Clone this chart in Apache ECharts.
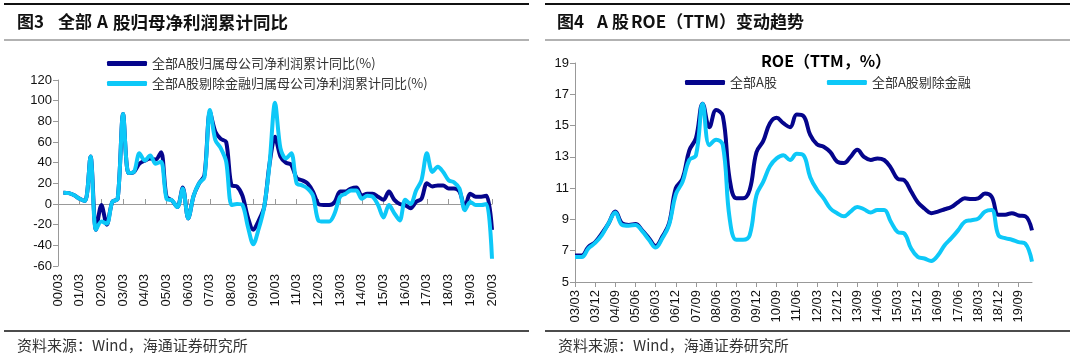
<!DOCTYPE html>
<html><head><meta charset="utf-8">
<script src="https://cdn.jsdelivr.net/npm/echarts@6/dist/echarts.min.js"></script>
<style>html,body{margin:0;padding:0;background:#fff}#c{width:1080px;height:361px}</style>
</head><body><div id="c"></div>
<script>
// ---------- Figure 3 data (quarterly cumulative YoY, %) ----------
const profitCats = ['00/03','00/06','00/09','00/12','01/03','01/06','01/09','01/12','02/03','02/06','02/09','02/12','03/03','03/06','03/09','03/12','04/03','04/06','04/09','04/12','05/03','05/06','05/09','05/12','06/03','06/06','06/09','06/12','07/03','07/06','07/09','07/12','08/03','08/06','08/09','08/12','09/03','09/06','09/09','09/12','10/03','10/06','10/09','10/12','11/03','11/06','11/09','11/12','12/03','12/06','12/09','12/12','13/03','13/06','13/09','13/12','14/03','14/06','14/09','14/12','15/03','15/06','15/09','15/12','16/03','16/06','16/09','16/12','17/03','17/06','17/09','17/12','18/03','18/06','18/09','18/12','19/03','19/06','19/09','19/12','20/03'];
const profitAll = [null, 11, 10.5, 8.5, 5, 3, 46, -25, -1, -20, 2, 5, 87, 30, 31, 39, 42, 44, 43, 50, 7, 3.5, -3, 16, -14, 8, 20, 28, 89, 70, 63, 60, 18, 17, 8, -13, -25, -16, -3, 39, 65, 46, 40, 38, 25, 23, 20, 12, 0, -1, -1, 2, 12, 12, 15, 16, 8, 10, 10, 7, 4, 12, 4, 0, -1, -4, 2, 5, 20, 17, 18, 18, 15, 15, 12, -3, 10, 7, 7, 8, -25];
const profitExFin = [null, 11, 10.5, 8.5, 5, 3, 46, -25, -17, -19, 2, 5, 87, 30, 31, 49, 42, 47, 39, 41, 5, 3.5, -3, 15, -14, 8, 20, 26, 91, 62, 54, 41, -1, 0, -1, -22, -39, -24, -3, 39, 98, 54, 44, 49, 20, 18, 15, 8, -16, -17, -17, -9, 7, 10, 13, 13, 5, 8, 7, -1, -13, -1, -9, -16, 4, 0, 13, 23, 49, 31, 36, 31, 23, 21, 15, -6, 2, -1, -1, 0, -53];
const profitNames = ['全部A股归属母公司净利润累计同比(%)', '全部A股剔除金融归属母公司净利润累计同比(%)'];

// ---------- Figure 4 data (ROE TTM, %) ----------
const roeCats = ['03/03','03/06','03/09','03/12','04/03','04/06','04/09','04/12','05/03','05/06','05/09','05/12','06/03','06/06','06/09','06/12','07/03','07/06','07/09','07/12','08/03','08/06','08/09','08/12','09/03','09/06','09/09','09/12','10/03','10/06','10/09','10/12','11/03','11/06','11/09','11/12','12/03','12/06','12/09','12/12','13/03','13/06','13/09','13/12','14/03','14/06','14/09','14/12','15/03','15/06','15/09','15/12','16/03','16/06','16/09','16/12','17/03','17/06','17/09','17/12','18/03','18/06','18/09','18/12','19/03','19/06','19/09','19/12','20/03'];
const roeAll = [6.7, 6.7, 7.25, 7.55, 8.1, 8.75, 9.5, 8.75, 8.65, 8.7, 8.3, 7.8, 7.3, 7.9, 8.75, 11.0, 11.6, 13.4, 14.2, 16.4, 14.9, 16.0, 15.6, 11.6, 10.35, 10.35, 10.9, 13.3, 14.0, 15.15, 15.5, 15.15, 14.9, 15.7, 15.6, 14.4, 13.8, 13.65, 13.3, 12.7, 12.6, 13.0, 13.45, 13.0, 12.8, 12.9, 12.8, 12.3, 11.6, 11.5, 10.8, 10.1, 9.7, 9.4, 9.5, 9.65, 9.8, 10.1, 10.35, 10.3, 10.35, 10.65, 10.45, 9.3, 9.3, 9.4, 9.25, 9.2, 8.3];
const roeExFin = [6.6, 6.6, 7.15, 7.5, 8.0, 8.75, 9.45, 8.65, 8.6, 8.65, 8.25, 7.7, 7.2, 7.8, 8.65, 10.6, 11.4, 12.8, 13.1, 16.4, 13.75, 14.1, 13.75, 9.1, 7.7, 7.7, 8.0, 10.55, 11.4, 12.4, 12.9, 13.1, 12.8, 13.2, 13.1, 11.7, 10.9, 10.35, 9.7, 9.4, 9.2, 9.5, 9.8, 9.65, 9.45, 9.6, 9.6, 8.85, 8.2, 8.1, 7.15, 6.6, 6.5, 6.35, 6.7, 7.35, 7.8, 8.3, 8.85, 8.95, 9.05, 9.5, 9.6, 8.0, 7.8, 7.7, 7.55, 7.45, 6.3];
const roeNames = ['全部A股', '全部A股剔除金融'];

// ---------- text ----------
const title3Parts = ['图3', '全部', 'A', '股归母净利润累计同比'];
const title4Parts = ['图4', 'A', '股', 'ROE（TTM）变动趋势'];
const roeTitle = 'ROE（TTM，%）';
const sourceText = '资料来源：Wind，海通证券研究所';

const DARK = '#05058c';
const LIGHT = '#0dc8f8';
const CJK = '"Noto Sans CJK SC", sans-serif';
const LAT = '"Liberation Sans", Arial, sans-serif';

const chart = echarts.init(document.getElementById('c'), null, {renderer: 'canvas'});

function hline(x1, x2, y, color, w) {
  return {type: 'line', shape: {x1: x1, y1: y, x2: x2, y2: y}, style: {stroke: color, lineWidth: w}, silent: true};
}
function txt(x, y, t, size, weight, color, align) {
  return {type: 'text', x: x, y: y, style: {text: t, font: weight + ' ' + size + 'px ' + CJK, fill: color, textAlign: align || 'left', textVerticalAlign: 'middle'}, silent: true};
}

const yLabel = {color: '#111', fontSize: 13, fontFamily: LAT, margin: 6};
const xLabel = {color: '#111', fontSize: 13, fontFamily: LAT, rotate: 90, margin: 8};
const axisGray = {lineStyle: {color: '#999', width: 1}};

const option = {
  animation: false,
  backgroundColor: '#fff',
  graphic: [
    hline(4, 529, 4, '#111', 2),
    hline(4, 529, 40, '#999', 1.5),
    hline(545, 1070, 4, '#111', 2),
    hline(545, 1070, 40, '#999', 1.5),
    hline(4, 529, 331, '#111', 1.5),
    hline(545, 1070, 331, '#111', 1.5),
    txt(17, 22, title3Parts[0], 17, 'bold', '#111'),
    txt(58, 22, title3Parts[1], 17, 'bold', '#111'),
    txt(97, 22, title3Parts[2], 17, 'bold', '#111'),
    txt(113, 22, title3Parts[3], 17.5, 'bold', '#111'),
    txt(557, 22, title4Parts[0], 17, 'bold', '#111'),
    txt(597, 22, title4Parts[1], 17, 'bold', '#111'),
    txt(612, 22, title4Parts[2], 17, 'bold', '#111'),
    txt(631, 22, title4Parts[3], 17, 'bold', '#111'),
    txt(17, 345, sourceText, 15, 'normal', '#333'),
    txt(558, 345, sourceText, 15, 'normal', '#333'),
    {type: 'text', x: 826, y: 61, silent: true, style: {text: roeTitle, font: 'bold 16px ' + CJK, fill: '#000', textAlign: 'center', textVerticalAlign: 'middle'}}
  ],
  legend: [
    {data: profitNames, orient: 'vertical', left: 102, top: 52, itemWidth: 40, itemHeight: 5, itemGap: 7,
     icon: 'roundRect', textStyle: {fontSize: 13, fontFamily: CJK, color: '#333'}},
    {data: roeNames, orient: 'horizontal', left: 680, top: 71, itemWidth: 40, itemHeight: 5, itemGap: 50,
     icon: 'roundRect', textStyle: {fontSize: 13, fontFamily: CJK, color: '#333'}}
  ],
  grid: [
    {left: 58, top: 80, width: 434, height: 186},
    {left: 575, top: 63, width: 457, height: 219}
  ],
  xAxis: [
    {gridIndex: 0, type: 'category', data: profitCats, boundaryGap: false, position: 'bottom',
     axisLine: {show: false, onZero: false}, axisTick: {show: false},
     axisLabel: Object.assign({interval: 3}, xLabel), splitLine: {show: false}},
    {gridIndex: 0, type: 'category', data: profitCats, boundaryGap: false,
     axisLine: Object.assign({onZero: true}, axisGray),
     axisTick: {show: true, interval: 3, length: 5, lineStyle: {color: '#999'}},
     axisLabel: {show: false}, splitLine: {show: false}},
    {gridIndex: 1, type: 'category', data: roeCats, boundaryGap: false,
     axisLine: axisGray, axisTick: {show: true, interval: 2, length: 5, lineStyle: {color: '#999'}},
     axisLabel: Object.assign({interval: 2}, xLabel), splitLine: {show: false}}
  ],
  yAxis: [
    {gridIndex: 0, type: 'value', min: -60, max: 120, interval: 20,
     axisLine: Object.assign({show: true}, axisGray), axisTick: {show: true, length: 5, lineStyle: {color: '#999'}},
     axisLabel: yLabel, splitLine: {show: false}},
    {gridIndex: 1, type: 'value', min: 5, max: 19, interval: 2,
     axisLine: Object.assign({show: true}, axisGray), axisTick: {show: true, length: 5, lineStyle: {color: '#999'}},
     axisLabel: yLabel, splitLine: {show: false}}
  ],
  series: [
    {name: profitNames[0], type: 'line', xAxisIndex: 1, yAxisIndex: 0, data: profitAll, symbol: 'none', smooth: 0.3,
     lineStyle: {color: DARK, width: 4}, itemStyle: {color: DARK}, z: 2},
    {name: profitNames[1], type: 'line', xAxisIndex: 1, yAxisIndex: 0, data: profitExFin, symbol: 'none', smooth: 0.3,
     lineStyle: {color: LIGHT, width: 4}, itemStyle: {color: LIGHT}, z: 3},
    {name: roeNames[0], type: 'line', xAxisIndex: 2, yAxisIndex: 1, data: roeAll, symbol: 'none', smooth: 0.4,
     lineStyle: {color: DARK, width: 4}, itemStyle: {color: DARK}, z: 2},
    {name: roeNames[1], type: 'line', xAxisIndex: 2, yAxisIndex: 1, data: roeExFin, symbol: 'none', smooth: 0.4,
     lineStyle: {color: LIGHT, width: 4}, itemStyle: {color: LIGHT}, z: 3}
  ]
};
chart.setOption(option);
</script>
</body></html>
